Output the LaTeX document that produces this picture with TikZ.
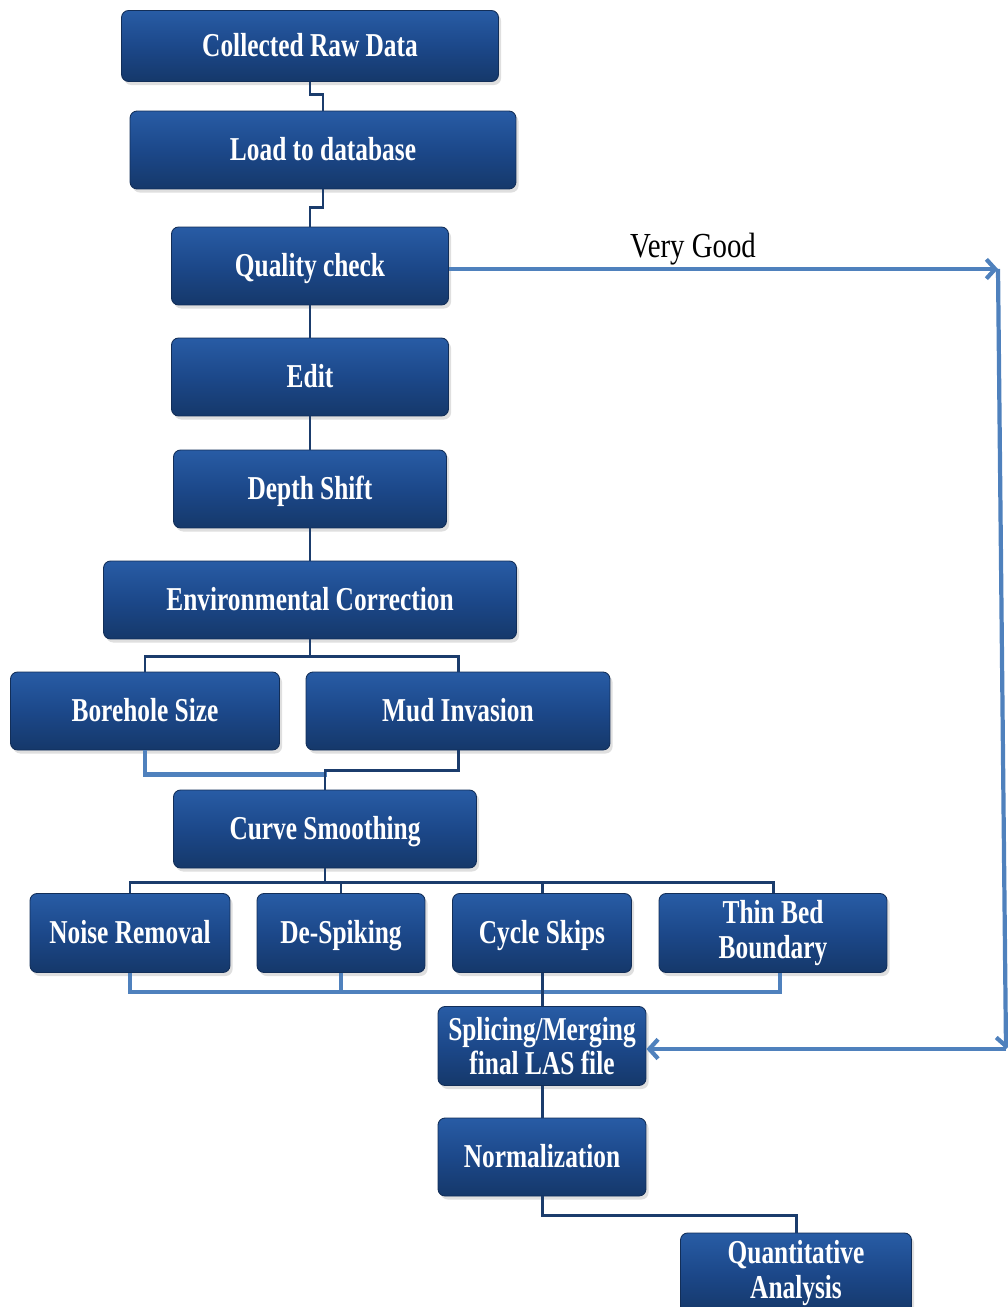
\documentclass[tikz,border=0pt]{standalone}
\usepackage{fontspec}
\setmainfont{Liberation Serif}
\newfontfamily\boxfont[FakeStretch=0.76]{Liberation Serif}
\newfontfamily\notefont[FakeStretch=0.82]{Liberation Serif}
\definecolor{boxtop}{RGB}{40, 92, 165}
\definecolor{boxmid}{RGB}{28, 72, 138}
\definecolor{boxbot}{RGB}{21, 56, 106}
\definecolor{boxedge}{RGB}{18, 46, 88}
\definecolor{linkdark}{RGB}{27, 60, 108}
\definecolor{linklight}{RGB}{79, 129, 189}
\usetikzlibrary{arrows.meta, positioning, shadows, calc}

\tikzset{
  procbase/.style={rounded corners=4pt, top color=boxtop, bottom color=boxbot, middle color=boxmid,
    draw=boxedge, line width=0.5pt, text=white, inner sep=0pt, align=center,
    font=\boxfont\bfseries\fontsize{19}{19.5}\selectfont,
    drop shadow={opacity=0.25, shadow xshift=1.5pt, shadow yshift=-2pt}},
  procbox/.style={procbase, text height=15pt, text depth=3pt},
  link/.style={draw=linkdark, line width=1.7pt},
  linklt/.style={draw=linklight, line width=2.4pt},
  goodarrow/.style={draw=linklight, line width=2.4pt, -{Straight Barb[length=5pt, width=11pt, line width=2.4pt]}}
}

\begin{document}
\begin{tikzpicture}[x=0.02cm, y=-0.02cm]
\useasboundingbox (0,0) rectangle (1007,1307);

% main column
\node[procbox, minimum width=7.54cm, minimum height=1.42cm] (raw) at (310,46) {Collected Raw Data};
\node[procbox, minimum width=7.72cm, minimum height=1.56cm] (load) at (323,150) {Load to database};
\node[procbox, minimum width=5.54cm, minimum height=1.56cm] (qc) at (310,266) {Quality check};
\node[procbox, minimum width=5.54cm, minimum height=1.56cm] (edit) at (310,377) {Edit};
\node[procbox, minimum width=5.46cm, minimum height=1.56cm] (depth) at (310,489) {Depth Shift};
\node[procbox, minimum width=8.26cm, minimum height=1.56cm] (env) at (310,600) {Environmental Correction};
\node[procbox, minimum width=5.38cm, minimum height=1.56cm] (bore) at (145,711) {Borehole Size};
\node[procbox, minimum width=6.08cm, minimum height=1.56cm] (mud) at (458,711) {Mud Invasion};
\node[procbox, minimum width=6.06cm, minimum height=1.56cm] (curve) at (325,829) {Curve Smoothing};

% curve smoothing steps
\node[procbox, minimum width=4.00cm, minimum height=1.58cm] (noise) at (130,933) {Noise Removal};
\node[procbox, minimum width=3.36cm, minimum height=1.58cm] (spike) at (341,933) {De-Spiking};
\node[procbox, minimum width=3.58cm, minimum height=1.58cm] (cycle) at (542,933) {Cycle Skips};
\node[procbase, minimum width=4.56cm, minimum height=1.58cm] (thin) at (773,933) {Thin Bed\\Boundary};

% output
\node[procbase, minimum width=4.16cm, minimum height=1.58cm] (splice) at (542,1046) {Splicing/Merging\\final LAS file};
\node[procbox, minimum width=4.16cm, minimum height=1.56cm] (norm) at (542,1157) {Normalization};
\node[procbase, minimum width=4.62cm, minimum height=1.60cm] (quant) at (796,1273) {Quantitative\\Analysis};

% connectors
\draw[link] (raw.south) -- ++(0,13) -| (load.north);
\draw[link] (load.south) -- ++(0,18) -| (qc.north);
\draw[link] (qc.south) -- (edit.north);
\draw[link] (edit.south) -- (depth.north);
\draw[link] (depth.south) -- (env.north);
\draw[link] (env.south) -- ++(0,17) coordinate (envfork);
\draw[link] (envfork) -| (bore.north);
\draw[link] (envfork) -| (mud.north);
\draw[linklt] (bore.south) |- ($(curve.north)+(2,-15)$);
\draw[link] (mud.south) -- ++(0,20) -| (curve.north);
\draw[link] (curve.south) -- ++(0,14) coordinate (curvefork);
\draw[link] (curvefork) -| (noise.north);
\draw[link] (curvefork) -| (spike.north);
\draw[link] (curvefork) -| (cycle.north);
\draw[link] (curvefork) -| (thin.north);
\draw[linklt] (noise.south) -- ++(0,19) -| ($(thin.south)+(7,0)$);
\draw[linklt] (spike.south) -- ++(0,19);
\draw[link] (cycle.south) -- (splice.north);
\draw[link] (splice.south) -- (norm.north);
\draw[link] (norm.south) -- ++(0,19) -| (quant.north);

% very good bypass
\coordinate (goodturn) at (998,269);
\coordinate (goodback) at (1006,1049);
\node[font=\notefont\fontsize{20}{22}\selectfont] (good) at (693,249) {Very Good};
\draw[goodarrow] (qc.east |- goodturn) -- (goodturn);
\draw[goodarrow] (goodturn) -- (goodback);
\draw[goodarrow] (goodback) -- (splice.east |- goodback);
\end{tikzpicture}
\end{document}
